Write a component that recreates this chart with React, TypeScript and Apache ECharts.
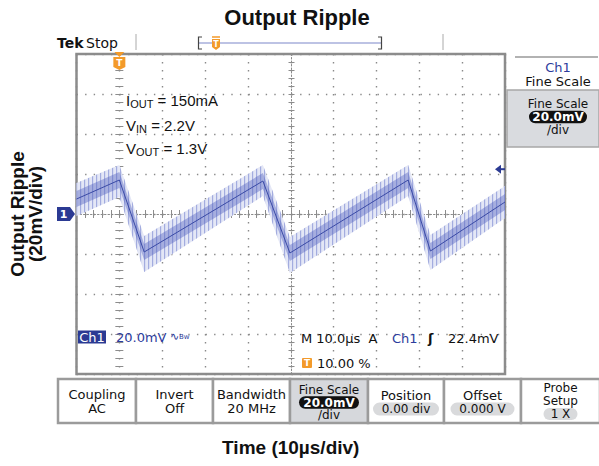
import React, { useEffect, useRef } from "react";
import * as echarts from "echarts";

// ---------- data ----------
// time in µs (trigger at 0, 10 µs/div), voltage in mV (20 mV/div, AC coupled)
const timeUs = [-10, 0, 5.8, 33.5, 39.8, 67.4, 72.6, 90];
const centerMv = [7.5, 17, -19, 16.5, -19.5, 17, -18.5, 6];
const upperMv = [15.5, 24.5, -11, 24.5, -11.5, 24.5, -10.5, 14];
const lowerMv = [-1, 8.5, -29, 9, -29.5, 9, -28, -2];
const coreUpperMv = [11.5, 21, -15, 20.5, -15.5, 21, -14.5, 10];
const coreLowerMv = [3.5, 13, -23, 12.5, -23.5, 13, -22.5, 2];

const xRangeUs = [-10, 90];
const xStepUs = 10;
const yRangeMv = [-80, 80];
const yStepMv = 20;
const triggerTimeUs = 0;
const triggerLevelMv = 22.4;

const annotationLines = [
  ["I", "OUT", " = 150mA"],
  ["V", "IN", " = 2.2V"],
  ["V", "OUT", " = 1.3V"],
];

// ---------- styles ----------
const GRAY = "#8c8c8c";
const DOT = "#8a8a8a";
const BLUE = "#2c3c9c";
const ORANGE = "#f39a2a";
const SCOPE_FONT = '"DejaVu Sans"';
const LABEL_FONT = '"Liberation Sans"';

const stripeSvg =
  "<svg xmlns='http://www.w3.org/2000/svg' width='4' height='4'><rect x='0' y='0' width='1.2' height='4' fill='#a3acdf'/></svg>";
const stripeUrl = "data:image/svg+xml;charset=utf-8," + encodeURIComponent(stripeSvg);

function txt(text: string, x: number, y: number, o: any = {}) {
  return {
    type: "text",
    x,
    y,
    z: o.z ?? 60,
    silent: true,
    style: {
      text,
      font: o.font ?? `13px ${SCOPE_FONT}`,
      fill: o.fill ?? "#111",
      textAlign: o.align ?? "center",
      textVerticalAlign: "middle",
      lineHeight: o.lineHeight,
      rich: o.rich,
    },
  };
}

function shield(cx: number, cy: number, w: number, h: number) {
  const hw = w / 2;
  const hh = h / 2;
  return [
    {
      type: "polygon",
      z: 80,
      silent: true,
      shape: {
        points: [
          [cx - hw, cy - hh],
          [cx + hw, cy - hh],
          [cx + hw, cy + hh - 2],
          [cx, cy + hh + 1],
          [cx - hw, cy + hh - 2],
        ],
      },
      style: { fill: ORANGE },
    },
    txt("T", cx, cy, { font: `bold ${Math.round(h * 0.75)}px ${SCOPE_FONT}`, fill: "#fff", z: 81 }),
  ];
}

function pill(cx: number, cy: number, w: number, h: number, fill: string) {
  return {
    type: "rect",
    z: 55,
    silent: true,
    shape: { x: cx - w / 2, y: cy - h / 2, width: w, height: h, r: h / 2 },
    style: { fill },
  };
}

function bandSeries(up: number[], lo: number[], style: any, z: number) {
  return {
    type: "custom",
    xAxisIndex: 0,
    yAxisIndex: 0,
    z,
    silent: true,
    clip: true,
    data: [[timeUs[0], up[0]]],
    renderItem: (_p: any, api: any) => {
      const pts: number[][] = [];
      for (let i = 0; i < timeUs.length; i++) pts.push(api.coord([timeUs[i], up[i]]));
      for (let i = timeUs.length - 1; i >= 0; i--) pts.push(api.coord([timeUs[i], lo[i]]));
      return { type: "polygon", shape: { points: pts }, style };
    },
  };
}

function axisX(extra: any) {
  return {
    type: "value",
    min: xRangeUs[0],
    max: xRangeUs[1],
    interval: xStepUs,
    axisLabel: { show: false },
    axisLine: { show: false },
    splitLine: { show: false },
    axisTick: { show: true, inside: true, length: 4, lineStyle: { color: GRAY } },
    minorTick: { show: true, splitNumber: 5, length: 4, lineStyle: { color: GRAY } },
    ...extra,
  };
}
function axisY(extra: any) {
  return {
    type: "value",
    min: yRangeMv[0],
    max: yRangeMv[1],
    interval: yStepMv,
    axisLabel: { show: false },
    axisLine: { show: false },
    splitLine: { show: false },
    axisTick: { show: true, inside: true, length: 4, lineStyle: { color: GRAY } },
    minorTick: { show: true, splitNumber: 5, length: 4, lineStyle: { color: GRAY } },
    ...extra,
  };
}

const nameStyle = {
  fontFamily: LABEL_FONT,
  fontWeight: "bold",
  fontSize: 19,
  color: "#111",
  lineHeight: 18,
};

const option: any = {
  animation: false,
  backgroundColor: "#fff",
  grid: {
    left: 75,
    top: 54,
    width: 430,
    height: 320,
    show: true,
    borderColor: GRAY,
    borderWidth: 2.5,
    backgroundColor: "transparent",
  },
  xAxis: [
    axisX({
      position: "bottom",
      name: "Time (10µs/div)",
      nameLocation: "middle",
      nameGap: 64,
      nameTextStyle: nameStyle,
      splitLine: { show: true, lineStyle: { color: DOT, width: 1.4, type: [1.4, 6.6] } },
    }),
    axisX({ position: "top" }),
    axisX({
      position: "bottom",
      offset: -160,
      axisLine: { show: true, lineStyle: { color: DOT, width: 1, type: [1.5, 2] } },
      axisTick: { show: true, inside: false, length: 3, lineStyle: { color: GRAY } },
      minorTick: { show: true, splitNumber: 5, length: 3, lineStyle: { color: GRAY } },
    }),
    axisX({
      position: "bottom",
      offset: -160,
      axisTick: { show: true, inside: true, length: 3, lineStyle: { color: GRAY } },
      minorTick: { show: true, splitNumber: 5, length: 3, lineStyle: { color: GRAY } },
    }),
  ],
  yAxis: [
    axisY({
      position: "left",
      name: "Output Ripple\n(20mV/div)",
      nameLocation: "middle",
      nameRotate: 90,
      nameGap: 32,
      nameTextStyle: nameStyle,
      splitLine: { show: true, lineStyle: { color: DOT, width: 1.4, type: [1.4, 7.2] } },
    }),
    axisY({ position: "right" }),
    axisY({
      position: "left",
      offset: -215,
      axisLine: { show: true, lineStyle: { color: DOT, width: 1, type: [1.5, 2] } },
      axisTick: { show: true, inside: false, length: 3, lineStyle: { color: GRAY } },
      minorTick: { show: true, splitNumber: 5, length: 3, lineStyle: { color: GRAY } },
    }),
    axisY({
      position: "left",
      offset: -215,
      axisTick: { show: true, inside: true, length: 3, lineStyle: { color: GRAY } },
      minorTick: { show: true, splitNumber: 5, length: 3, lineStyle: { color: GRAY } },
    }),
  ],
  series: [
    bandSeries(upperMv, lowerMv, { fill: "#e4e7f6" }, 3),
    bandSeries(
      upperMv,
      lowerMv,
      { fill: { image: stripeUrl, repeat: "repeat", imageWidth: 4, imageHeight: 4 } },
      4
    ),
    bandSeries(coreUpperMv, coreLowerMv, { fill: "rgba(80,95,190,0.42)" }, 5),
    {
      type: "line",
      xAxisIndex: 0,
      yAxisIndex: 0,
      z: 6,
      silent: true,
      symbol: "none",
      data: timeUs.map((t, i) => [t, centerMv[i]]),
      lineStyle: { color: "#3a4aa5", width: 1 },
    },
  ],
};

function buildGraphics(tx: number, ty0: number, tyTrig: number) {
  const g: any[] = [];
  const small = { font: `12px ${SCOPE_FONT}`, lineHeight: 12 };
  const smallBoldWhite = { font: `bold 12px ${SCOPE_FONT}`, lineHeight: 12, fill: "#fff" };
  // title
  g.push(txt("Output Ripple", 297, 17, { font: `bold 22px ${LABEL_FONT}` }));
  // top status bar
  g.push(txt("Tek", 57, 43, { font: `bold 14px ${SCOPE_FONT}`, align: "left" }));
  g.push(txt("Stop", 86, 43, { font: `14px ${SCOPE_FONT}`, align: "left" }));
  g.push({ type: "line", silent: true, shape: { x1: 136, y1: 34, x2: 136, y2: 50 }, style: { stroke: "#aaa", lineWidth: 1 } });
  g.push({ type: "line", silent: true, shape: { x1: 443, y1: 34, x2: 443, y2: 50 }, style: { stroke: "#aaa", lineWidth: 1 } });
  g.push({ type: "line", silent: true, shape: { x1: 199, y1: 43, x2: 381, y2: 43 }, style: { stroke: "#7d87c9", lineWidth: 1.2 } });
  g.push({ type: "polyline", silent: true, shape: { points: [[202, 37], [198.5, 37], [198.5, 49], [202, 49]] }, style: { stroke: "#444", lineWidth: 1.2, fill: "none" } });
  g.push({ type: "polyline", silent: true, shape: { points: [[378, 37], [381.5, 37], [381.5, 49], [378, 49]] }, style: { stroke: "#444", lineWidth: 1.2, fill: "none" } });
  g.push({ type: "line", silent: true, z: 79, shape: { x1: 212, y1: 37, x2: 220, y2: 37 }, style: { stroke: ORANGE, lineWidth: 1.5 } });
  g.push(...shield(216, 44, 8, 10));

  // trigger position marker at top of graticule
  g.push({ type: "polygon", silent: true, z: 80, shape: { points: [[tx - 5, 52], [tx + 5, 52], [tx, 57]] }, style: { fill: ORANGE } });
  g.push(...shield(tx, 63, 12, 12));

  // channel 1 ground marker
  g.push({
    type: "polygon",
    silent: true,
    z: 80,
    shape: { points: [[57, ty0 - 7], [70, ty0 - 7], [75, ty0], [70, ty0 + 7], [57, ty0 + 7]] },
    style: { fill: "#2b3a93" },
  });
  g.push(txt("1", 63.5, ty0, { font: `bold 11px ${SCOPE_FONT}`, fill: "#fff", z: 81 }));

  // trigger level arrow on the right
  g.push({ type: "polygon", silent: true, z: 80, shape: { points: [[495, tyTrig], [501, tyTrig - 4.5], [501, tyTrig + 4.5]] }, style: { fill: "#2b3a93" } });
  g.push({ type: "line", silent: true, z: 80, shape: { x1: 500, y1: tyTrig, x2: 505, y2: tyTrig }, style: { stroke: "#2b3a93", lineWidth: 2 } });

  // annotations
  const annY = [100, 125, 148];
  annotationLines.forEach((ln, i) => {
    g.push({
      type: "text",
      x: 126,
      y: annY[i],
      z: 60,
      silent: true,
      style: {
        text: `{m|${ln[0]}}{s|${ln[1]}}{m|${ln[2]}}`,
        textAlign: "left",
        textVerticalAlign: "middle",
        rich: {
          m: { fontFamily: LABEL_FONT, fontSize: 15, lineHeight: 18, fill: "#111", verticalAlign: "middle" },
          s: { fontFamily: LABEL_FONT, fontSize: 11, lineHeight: 10, fill: "#111", verticalAlign: "bottom" },
        },
      },
    });
  });

  // lower readout inside the graticule
  g.push({ type: "rect", silent: true, z: 55, shape: { x: 78, y: 330.5, width: 28, height: 13 }, style: { fill: "#2b3a93" } });
  g.push(txt("Ch1", 92, 337, { fill: "#fff" }));
  g.push(txt("20.0mV", 116, 337, { fill: BLUE, align: "left" }));
  g.push(txt("∿", 170, 336, { fill: BLUE, align: "left", font: `11px ${SCOPE_FONT}` }));
  g.push(txt("Bw", 179, 337, { fill: BLUE, align: "left", font: `7px ${SCOPE_FONT}` }));
  g.push(txt("M 10.0µs  A", 301, 338, { align: "left" }));
  g.push(txt("Ch1", 392, 338, { align: "left", fill: BLUE }));
  g.push(txt("ʃ", 428, 338, { align: "left", font: `bold 13px ${SCOPE_FONT}` }));
  g.push(txt("22.4mV", 448, 338, { align: "left" }));
  g.push({ type: "rect", silent: true, z: 55, shape: { x: 302, y: 358, width: 10, height: 10, r: 1 }, style: { fill: ORANGE } });
  g.push(txt("T", 307, 363, { fill: "#fff", font: `bold 9px ${SCOPE_FONT}` }));
  g.push(txt("10.00 %", 317, 363, { align: "left" }));

  // right side menu
  g.push({ type: "line", silent: true, shape: { x1: 515, y1: 57, x2: 598, y2: 57 }, style: { stroke: "#999", lineWidth: 1.5 } });
  g.push(txt("Ch1", 558, 67, { fill: BLUE }));
  g.push(txt("Fine Scale", 558, 81));
  g.push({ type: "rect", silent: true, z: 50, shape: { x: 507, y: 90, width: 92, height: 57 }, style: { fill: "#d9dbdf", stroke: "#a8a8a8", lineWidth: 1.5 } });
  g.push(txt("Fine Scale", 558, 104, small));
  g.push(pill(558, 117, 58, 12.5, "#111"));
  g.push(txt("20.0mV", 558, 117, smallBoldWhite));
  g.push(txt("/div", 558, 130, small));

  // bottom soft-key buttons
  const edges = [58, 136, 213, 290, 368, 444, 521, 600];
  for (let i = 0; i < 7; i++) {
    g.push({
      type: "rect",
      silent: true,
      z: 50,
      shape: { x: edges[i], y: 379, width: edges[i + 1] - edges[i], height: 44 },
      style: { fill: i === 3 ? "#d6d8dc" : "#fff", stroke: "#9b9b9b", lineWidth: 2.5 },
    });
  }
  const cx = (i: number) => (edges[i] + edges[i + 1]) / 2;
  g.push(txt("Coupling", cx(0), 394));
  g.push(txt("AC", cx(0), 408));
  g.push(txt("Invert", cx(1), 394));
  g.push(txt("Off", cx(1), 408));
  g.push(txt("Bandwidth", cx(2), 394));
  g.push(txt("20 MHz", cx(2), 408));
  g.push(txt("Fine Scale", cx(3), 389.5, small));
  g.push(pill(cx(3), 402.5, 60, 12.5, "#111"));
  g.push(txt("20.0mV", cx(3), 402.5, smallBoldWhite));
  g.push(txt("/div", cx(3), 415, small));
  g.push(txt("Position", cx(4), 395));
  g.push(pill(cx(4), 409, 66, 13, "#d9dadc"));
  g.push(txt("0.00 div", cx(4), 409, small));
  g.push(txt("Offset", cx(5), 395));
  g.push(pill(cx(5), 409, 64, 13, "#d9dadc"));
  g.push(txt("0.000 V", cx(5), 409, small));
  g.push(txt("Probe", cx(6), 388, small));
  g.push(txt("Setup", cx(6), 401, small));
  g.push(pill(cx(6), 414, 34, 12, "#d9dadc"));
  g.push(txt("1 X", cx(6), 414, small));
  return g;
}

export default function App() {
  const ref = useRef<HTMLDivElement>(null);
  useEffect(() => {
    if (!ref.current) return;
    const chart = echarts.init(ref.current, null, { renderer: "svg", width: 599, height: 466 });
    chart.setOption(option);
    const tx = chart.convertToPixel({ xAxisIndex: 0 }, triggerTimeUs) as number;
    const ty0 = chart.convertToPixel({ yAxisIndex: 0 }, 0) as number;
    const tyTrig = chart.convertToPixel({ yAxisIndex: 0 }, triggerLevelMv) as number;
    chart.setOption({ graphic: { elements: buildGraphics(tx, ty0, tyTrig) } });
    return () => chart.dispose();
  }, []);
  return (
    <div
      ref={ref}
      style={{ position: "fixed", left: 0, top: 0, width: 599, height: 466, background: "#fff" }}
    />
  );
}
